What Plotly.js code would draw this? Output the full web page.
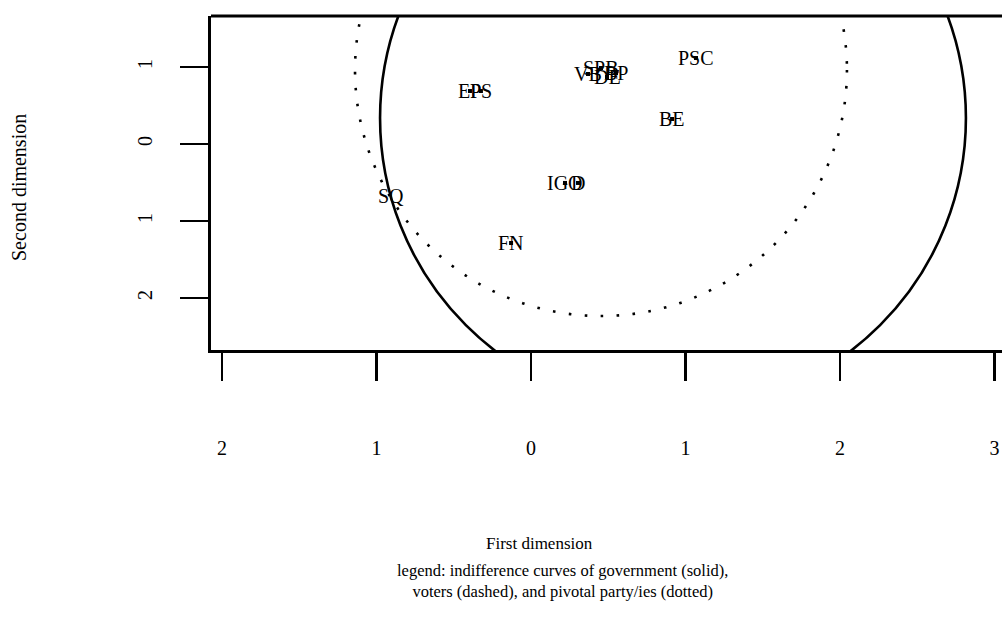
<!DOCTYPE html>
<html>
<head>
<meta charset="utf-8">
<script src="https://cdn.plot.ly/plotly-3.0.1.min.js"></script>
<style>html,body{margin:0;padding:0;background:#fff;overflow:hidden}#chart{width:1002px;height:630px}</style>
</head>
<body>
<div id="chart"></div>
<script>
// Party positions (first dimension, second dimension)
const partyLabels = ["PSC", "BE", "FN", "SQ", "IGO", "D", "EP", "PS", "VB", "SPB", "DE", "BP"];
const partyX = [1.068, 0.913, -0.129, -0.906, 0.220, 0.304, -0.395, -0.324, 0.369, 0.453, 0.492, 0.550];
const partyY = [1.117, 0.325, -1.286, -0.675, -0.506, -0.506, 0.688, 0.688, 0.909, 0.987, 0.870, 0.922];
const showMarker = [true, true, true, false, true, true, true, true, true, true, true, true];

// Indifference curves: center (x, y) and radii along each dimension
const govCenter = [0.919, 0.338];
const govRadius = [1.896, 3.805];
const pivCenter = [0.453, 0.961];
const pivRadius = [1.592, 3.195];

const xTickVals = [-2, -1, 0, 1, 2, 3];
const xTickText = ["2", "1", "0", "1", "2", "3"];
const yTickVals = [1, 0, -1, -2];
const yTickText = ["1", "0", "1", "2"];

const FONT = "Liberation Serif, DejaVu Serif, serif";

const mx = [], my = [];
partyX.forEach((x, i) => { if (showMarker[i]) { mx.push(x); my.push(partyY[i]); } });

const traces = [{
  x: mx, y: my, type: "scatter", mode: "markers",
  marker: {symbol: "square", size: 4, color: "#000"},
  hoverinfo: "skip", showlegend: false, cliponaxis: false
}];

const annotations = partyLabels.map((t, i) => ({
  x: partyX[i], y: partyY[i], xref: "x", yref: "y", text: t, showarrow: false,
  xanchor: "center", yanchor: "middle", font: {family: FONT, size: 20, color: "#000"}
}));

const W = 1002, H = 630, L = 211, R = 0, T = 16, B = 280;
const pw = W - L - R, ph = H - T - B;
const px = p => (p - L) / pw;
const py = p => (H - B - p) / ph;

annotations.push(
  {xref: "paper", yref: "paper", x: px(539), y: py(543), text: "First dimension", showarrow: false,
   xanchor: "center", yanchor: "middle", font: {family: FONT, size: 17, color: "#000"}},
  {xref: "paper", yref: "paper", x: px(562), y: py(581), text: "legend: indifference curves of government (solid),<br>voters (dashed), and pivotal party/ies (dotted)",
   showarrow: false, xanchor: "center", yanchor: "middle", align: "center",
   font: {family: FONT, size: 16.5, color: "#000"}},
  {xref: "paper", yref: "paper", x: px(19), y: py(188), text: "Second dimension", showarrow: false,
   textangle: -90, xanchor: "center", yanchor: "middle", font: {family: FONT, size: 20, color: "#000"}}
);

const shapes = [
  {type: "circle", xref: "x", yref: "y",
   x0: govCenter[0] - govRadius[0], x1: govCenter[0] + govRadius[0],
   y0: govCenter[1] - govRadius[1], y1: govCenter[1] + govRadius[1],
   line: {color: "#000", width: 2.6}},
  {type: "circle", xref: "x", yref: "y",
   x0: pivCenter[0] - pivRadius[0], x1: pivCenter[0] + pivRadius[0],
   y0: pivCenter[1] - pivRadius[1], y1: pivCenter[1] + pivRadius[1],
   line: {color: "#000", width: 2.6, dash: "2.6px,13.4px"}},
  {type: "line", xref: "paper", yref: "paper", x0: 0, x1: 1, y0: 1, y1: 1,
   line: {color: "#000", width: 2.8}}
];

const layout = {
  width: W, height: H,
  margin: {l: L, r: R, t: T, b: B, pad: 0},
  paper_bgcolor: "#fff", plot_bgcolor: "#fff",
  showlegend: false,
  xaxis: {
    range: [(211 - 531) / 154.5, (1002 - 531) / 154.5],
    tickvals: xTickVals, ticktext: xTickText,
    ticks: "outside", ticklen: 28, tickwidth: 2.6, tickcolor: "#000",
    showline: true, linewidth: 2.8, linecolor: "#000",
    showgrid: false, zeroline: false, ticklabelstandoff: 50,
    tickfont: {family: FONT, size: 20, color: "#000"}
  },
  yaxis: {
    range: [(144 - 350) / 77, (144 - 16) / 77],
    tickvals: yTickVals, ticktext: yTickText,
    ticks: "outside", ticklen: 28, tickwidth: 2.6, tickcolor: "#000",
    showline: true, linewidth: 2.8, linecolor: "#000",
    showgrid: false, zeroline: false, tickangle: -90, ticklabelstandoff: 20,
    tickfont: {family: FONT, size: 20, color: "#000"}
  },
  shapes: shapes,
  annotations: annotations
};

Plotly.newPlot("chart", traces, layout, {staticPlot: true, displayModeBar: false});
</script>
</body>
</html>
